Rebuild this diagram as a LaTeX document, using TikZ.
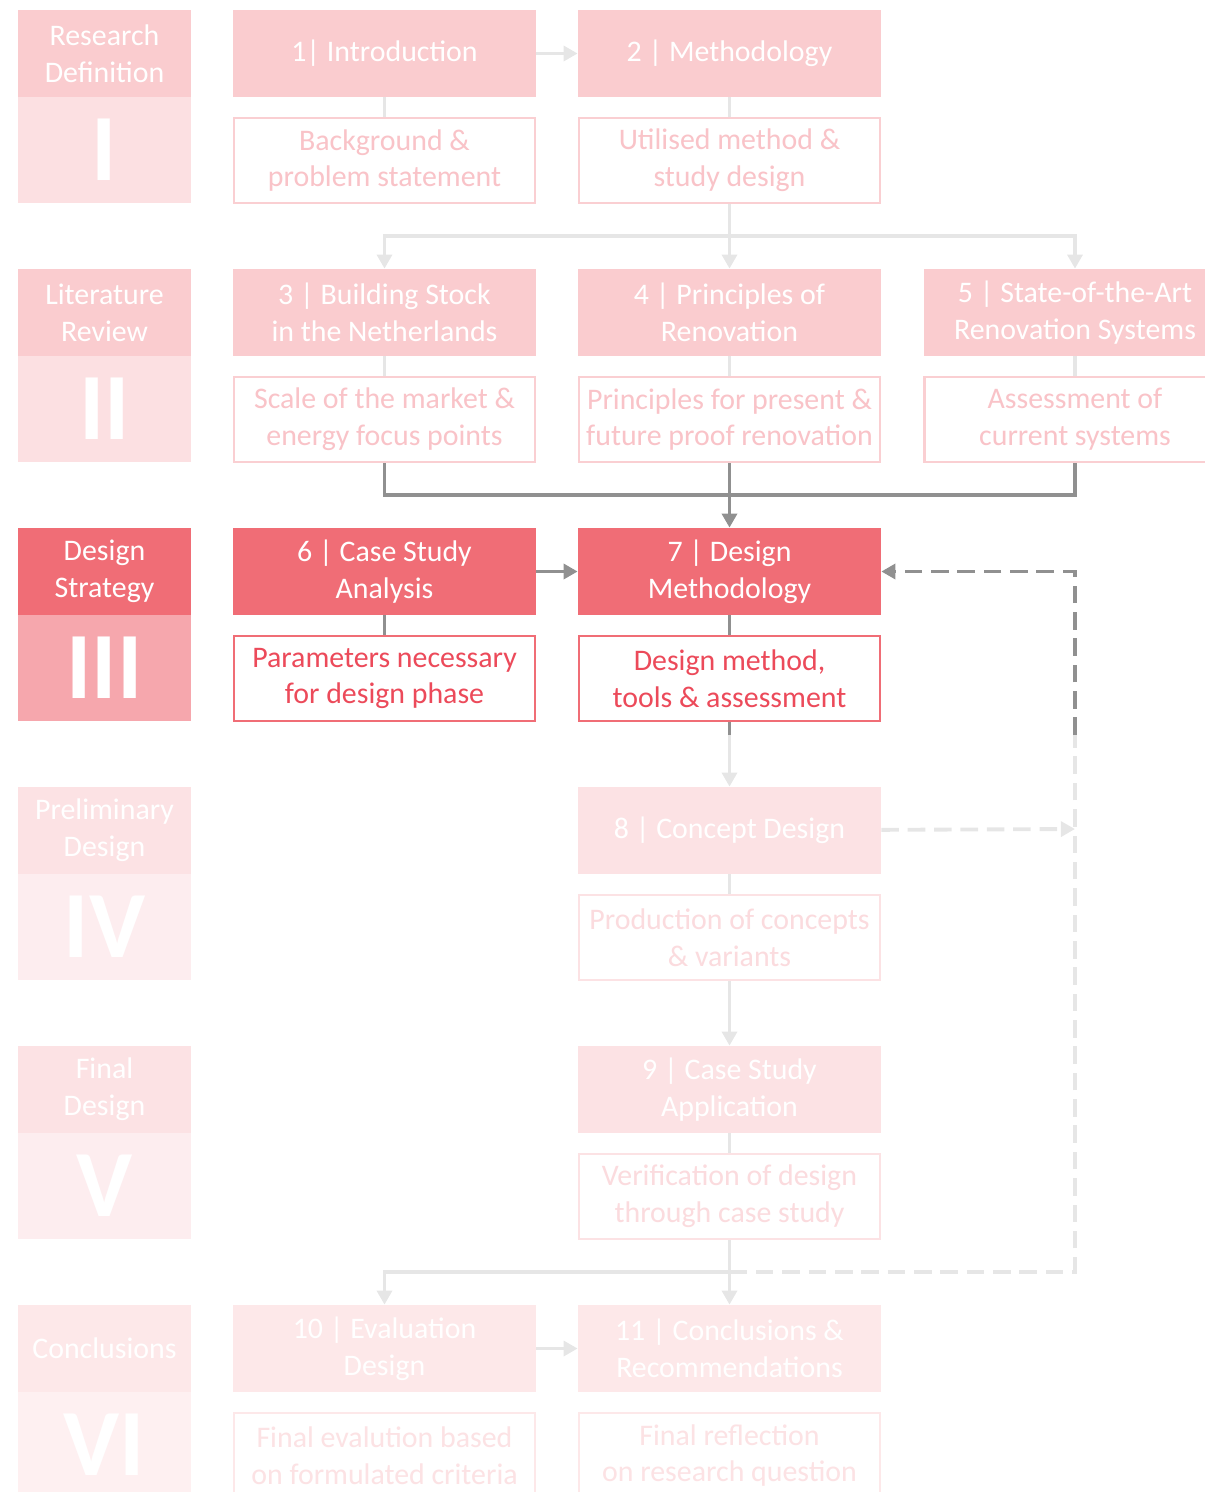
\documentclass[tikz,border=0pt]{standalone}
\usepackage{fontspec}
\setmainfont{Carlito}
\usepackage{tikz}
\usepackage{xcolor}
\usetikzlibrary{arrows.meta}

\definecolor{rosa}{HTML}{F06D76}
\definecolor{rosatext}{HTML}{EC4A5A}
\definecolor{donker}{HTML}{909090}
\definecolor{licht}{HTML}{E6E6E6}

\begin{document}
\begin{tikzpicture}
	\tikzset{fase/.style={rectangle,fill=rosa!#1,text=white,minimum width=3.46cm,minimum height=1.74cm,inner sep=0pt,align=center,font=\fontsize{17}{21}\selectfont}}
	\tikzset{romein/.style={rectangle,fill=rosa!#1,text=white,minimum width=3.46cm,minimum height=2.12cm,inner sep=0pt,font=\fontsize{54}{54}\selectfont\bfseries}}
	\tikzset{kop/.style={rectangle,fill=rosa!#1,text=white,minimum width=6.06cm,minimum height=1.74cm,inner sep=0pt,align=center,font=\fontsize{17}{21}\selectfont}}
	\tikzset{omschr/.style={rectangle,draw=rosa!#1,line width=1.6pt,fill=white,text=rosatext!#1,minimum width=6.02cm,minimum height=1.7cm,inner sep=0pt,align=center,font=\fontsize{17}{21}\selectfont}}
	\tikzstyle{lijn}=[draw=licht,line width=2.2pt]
	\tikzstyle{lijnd}=[draw=donker,line width=2.2pt]
	\tikzstyle{pijl}=[-{Triangle[length=8pt,width=8.5pt]}]
	\tikzstyle{streep}=[dash pattern=on 10pt off 5pt]

	\useasboundingbox (0,0) rectangle (24.1,-29.84);

	% fases
	\node [fase=35] (p1) at (2.09,-1.07) {Research\\Definition};
	\node [romein=21] (n1) at (2.09,-3.0) {I};
	\node [fase=35] (p2) at (2.09,-6.25) {Literature\\Review};
	\node [romein=21] (n2) at (2.09,-8.18) {II};
	\node [fase=100] (p3) at (2.09,-11.43) {Design\\Strategy};
	\node [romein=60] (n3) at (2.09,-13.36) {III};
	\node [fase=20] (p4) at (2.09,-16.61) {Preliminary\\Design};
	\node [romein=12] (n4) at (2.09,-18.54) {IV};
	\node [fase=20] (p5) at (2.09,-21.79) {Final\\Design};
	\node [romein=12] (n5) at (2.09,-23.72) {V};
	\node [fase=16] (p6) at (2.09,-26.97) {Conclusions};
	\node [romein=10] (n6) at (2.09,-28.90) {VI};

	% hoofdstukken
	\node [kop=35] (h1) at (7.69,-1.07) {1| Introduction};
	\node [omschr=33] (d1) at (7.69,-3.21) {Background \&\\problem statement};
	\node [kop=35] (h2) at (14.59,-1.07) {2 | Methodology};
	\node [omschr=33] (d2) at (14.59,-3.21) {Utilised method \&\\study design};

	\node [kop=35] (h3) at (7.69,-6.25) {3 | Building Stock\\in the Netherlands};
	\node [omschr=33] (d3) at (7.69,-8.39) {Scale of the market \&\\energy focus points};
	\node [kop=35] (h4) at (14.59,-6.25) {4 | Principles of\\Renovation};
	\node [omschr=33] (d4) at (14.59,-8.39) {Principles for present \&\\future proof renovation};
	\node [kop=35] (h5) at (21.5,-6.25) {5 | State-of-the-Art\\Renovation Systems};
	\node [omschr=33] (d5) at (21.5,-8.39) {Assessment of\\current systems};

	\node [kop=100] (h6) at (7.69,-11.43) {6 | Case Study\\Analysis};
	\node [omschr=100] (d6) at (7.69,-13.57) {Parameters necessary\\for design phase};
	\node [kop=100] (h7) at (14.59,-11.43) {7 | Design\\Methodology};
	\node [omschr=100] (d7) at (14.59,-13.57) {Design method,\\tools \& assessment};

	\node [kop=20] (h8) at (14.59,-16.61) {8 | Concept Design};
	\node [omschr=20] (d8) at (14.59,-18.75) {Production of concepts\\\& variants};

	\node [kop=20] (h9) at (14.59,-21.79) {9 | Case Study\\Application};
	\node [omschr=20] (d9) at (14.59,-23.93) {Verification of design\\through case study};

	\node [kop=16] (h10) at (7.69,-26.97) {10 | Evaluation\\Design};
	\node [omschr=16] (d10) at (7.69,-29.11) {Final evalution based\\on formulated criteria};
	\node [kop=16] (h11) at (14.59,-26.97) {11 | Conclusions \&\\Recommendations};
	\node [omschr=16] (d11) at (14.59,-29.11) {Final reflection\\on research question};

	\coordinate (j1) at (14.59,-4.72);
	\coordinate (j2) at (14.59,-9.9);
	\coordinate (j3) at (14.59,-14.7);
	\coordinate (j4) at (14.59,-25.44);
	\coordinate (j5) at (21.5,-25.44);
	\coordinate (j6) at (21.5,-14.7);
	\coordinate (j7) at (21.5,-16.58);

	% verbindingen
	\draw [lijn,pijl] (h1) -- (h2);
	\draw [lijn] (h1) -- (d1);
	\draw [lijn] (h2) -- (d2);
	\draw [lijn] (d2) -- (j1);
	\draw [lijn,pijl] (j1) -| (h3);
	\draw [lijn,pijl] (j1) -- (h4);
	\draw [lijn,pijl] (j1) -| (h5);
	\draw [lijn] (h3) -- (d3);
	\draw [lijn] (h4) -- (d4);
	\draw [lijn] (h5) -- (d5);
	\draw [lijnd] (d3) |- (j2) -| (d5);
	\draw [lijnd,pijl] (d4) -- (h7);
	\draw [lijnd,pijl] (h6) -- (h7);
	\draw [lijnd] (h6) -- (d6);
	\draw [lijnd] (h7) -- (d7);
	\draw [lijnd] (d7) -- (j3);
	\draw [lijn,pijl] (j3) -- (h8);
	\draw [lijn] (h8) -- (d8);
	\draw [lijn,pijl] (d8) -- (h9);
	\draw [lijn] (h9) -- (d9);
	\draw [lijn] (d9) -- (j4);
	\draw [lijn,pijl] (j4) -| (h10);
	\draw [lijn,pijl] (j4) -- (h11);
	\draw [lijn,pijl] (h10) -- (h11);
	\draw [lijn,streep,pijl] (h8) -- (j7);
	\draw [lijn,streep] (j4) -- (j5) -- (j6);
	\draw [lijnd,streep,pijl] (j6) |- (h7);
\end{tikzpicture}
\end{document}
